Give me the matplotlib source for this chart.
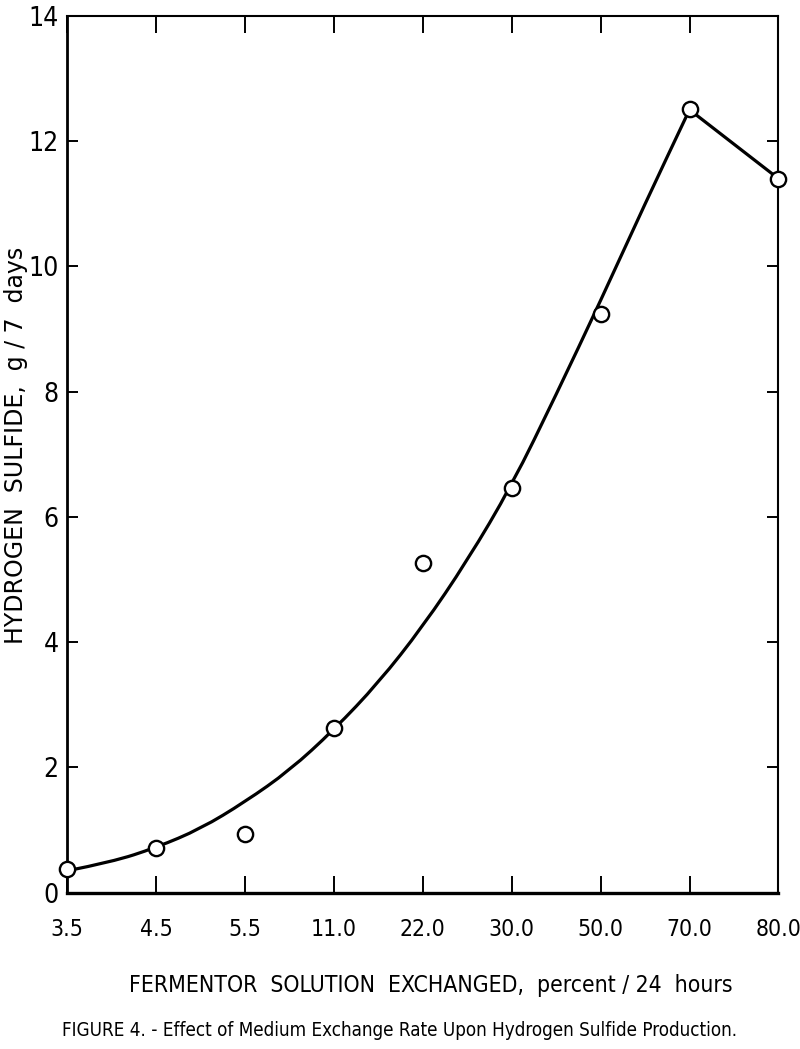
import matplotlib
matplotlib.use("Agg")
import matplotlib.pyplot as plt
from matplotlib.path import Path
from matplotlib.patches import PathPatch
import numpy as np

# exchange rates (percent / 24 h), plotted at equal spacing
rates = ["3.5", "4.5", "5.5", "11.0", "22.0", "30.0", "50.0", "70.0", "80.0"]
# measured H2S, g / 7 days
h2s = [0.38, 0.72, 0.93, 2.63, 5.27, 6.46, 9.24, 12.51, 11.40]

# hand-drawn fit curve at half-category steps
fit_pos = [0, 0.5, 1, 1.5, 2, 2.5, 3, 3.5, 4, 4.5, 5, 5.5, 6, 6.5, 7, 8]
fit_val = [0.35, 0.49, 0.72, 1.02, 1.45, 1.95, 2.6, 3.35, 4.25, 5.3, 6.5,
           7.95, 9.45, 11.0, 12.5, 11.4]

narrow = ["DejaVu Sans Condensed", "Liberation Sans Narrow", "DejaVu Sans"]

fig = plt.figure(figsize=(8, 10.49), dpi=100)
ax = fig.add_axes([0.084, 0.149, 0.889, 0.836])

# smooth curve up to the peak (quadratic pieces through the read points),
# then a straight segment down to the last point
pts = list(zip(fit_pos[:-1], fit_val[:-1]))
verts = [pts[0]]
codes = [Path.MOVETO]
for i in range(1, len(pts) - 1):
    mid = ((pts[i][0] + pts[i + 1][0]) / 2, (pts[i][1] + pts[i + 1][1]) / 2)
    verts += [pts[i], mid]
    codes += [Path.CURVE3, Path.CURVE3]
verts += [pts[-1], (fit_pos[-1], fit_val[-1])]
codes += [Path.LINETO, Path.LINETO]
ax.add_patch(PathPatch(Path(verts, codes), fill=False, edgecolor="black",
                       lw=2.3, capstyle="round", joinstyle="round", zorder=2))

xpos = np.arange(len(rates))
ax.plot(xpos, h2s, linestyle="none", marker="o", ms=11, mfc="white",
        mec="black", mew=1.7, zorder=3, clip_on=False)

ax.set_xlim(0, 8)
ax.set_ylim(0, 14)
ax.set_xticks(xpos)
ax.set_xticklabels(rates, family=narrow, stretch="condensed", fontsize=16.5)
ax.set_yticks(range(0, 15, 2))
ax.set_yticklabels([str(v) for v in range(0, 15, 2)], family=narrow,
                   stretch="condensed", fontsize=19)

ax.tick_params(axis="both", direction="in", width=1.4,
               top=True, right=True, color="black")
ax.tick_params(axis="x", length=12, pad=18)
ax.tick_params(axis="y", length=8, pad=6)

for side, lw in [("left", 2.0), ("bottom", 2.4), ("top", 1.5), ("right", 1.5)]:
    ax.spines[side].set_linewidth(lw)

ax.set_ylabel("HYDROGEN  SULFIDE,  g / 7  days", fontsize=17, family="DejaVu Sans")
ax.yaxis.set_label_coords(-0.055, 0.51)

fig.text(0.539, 0.061, "FERMENTOR  SOLUTION  EXCHANGED,  percent / 24  hours",
         ha="center", va="center", fontsize=16.5, family=narrow, stretch="condensed")
fig.text(0.5, 0.018,
         "FIGURE 4. - Effect of Medium Exchange Rate Upon Hydrogen Sulfide Production.",
         ha="center", va="center", fontsize=13.5, family=narrow, stretch="condensed")

fig.savefig("out.png", dpi=100)
